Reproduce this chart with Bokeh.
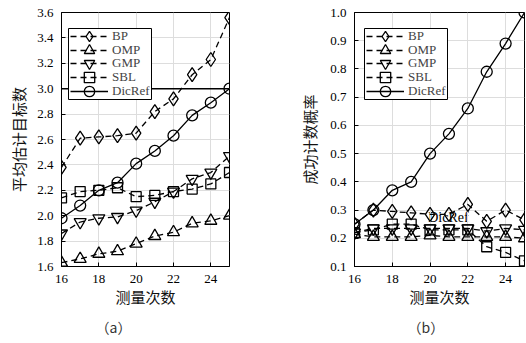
from bokeh.plotting import figure
from bokeh.layouts import row
from bokeh.models import Span, Range1d, FixedTicker, Title, Legend, LegendItem, BoxAnnotation
from bokeh.embed import file_html
from bokeh.resources import INLINE
from bokeh.core.properties import value

# ---------------- data ----------------
meas = [16, 17, 18, 19, 20, 21, 22, 23, 24, 25]
x_ticks = [16, 18, 20, 22, 24]

# (a) average estimated target number
a_bp = [2.38, 2.61, 2.62, 2.63, 2.65, 2.82, 2.92, 3.11, 3.23, 3.56]
a_omp = [1.63, 1.66, 1.70, 1.72, 1.78, 1.84, 1.87, 1.94, 1.96, 2.00]
a_gmp = [1.86, 1.95, 1.98, 1.99, 2.04, 2.11, 2.19, 2.29, 2.34, 2.47]
a_sbl = [2.14, 2.19, 2.20, 2.22, 2.15, 2.16, 2.19, 2.21, 2.25, 2.34]
a_dic = [1.98, 2.08, 2.20, 2.26, 2.41, 2.51, 2.63, 2.79, 2.89, 3.00]
a_ref = 3.0
a_yticks = [1.6, 1.8, 2.0, 2.2, 2.4, 2.6, 2.8, 3.0, 3.2, 3.4, 3.6]
a_ylabels = ["1.6", "1.8", "2.0", "2.2", "2.4", "2.6", "2.8", "3.0", "3.2", "3.4", "3.6"]

# (b) success probability
b_bp = [0.25, 0.30, 0.295, 0.29, 0.285, 0.285, 0.32, 0.26, 0.30, 0.265]
b_omp = [0.215, 0.205, 0.205, 0.205, 0.21, 0.205, 0.205, 0.205, 0.205, 0.20]
b_gmp = [0.22, 0.235, 0.235, 0.235, 0.235, 0.235, 0.235, 0.225, 0.235, 0.23]
b_sbl = [0.22, 0.23, 0.25, 0.25, 0.23, 0.23, 0.23, 0.17, 0.15, 0.12]
b_dic = [0.25, 0.30, 0.37, 0.40, 0.50, 0.57, 0.66, 0.79, 0.89, 1.00]
b_yticks = [0.1, 0.2, 0.3, 0.4, 0.5, 0.6, 0.7, 0.8, 0.9, 1.0]
b_ylabels = ["0.1", "0.2", "0.3", "0.4", "0.5", "0.6", "0.7", "0.8", "0.9", "1.0"]
b_note_x = [19.9]
b_note_y = [0.274]
b_note_text = ["DicRef"]

names = ["BP", "OMP", "GMP", "SBL", "DicRef"]
markers = ["diamond", "triangle", "inverted_triangle", "square", "circle"]
msizes = [14, 12, 12, 10, 11]
dashes = ["6 4", "6 4", "6 4", "6 4", "solid"]

SERIF = "Liberation Serif"
CJK = "Noto Sans CJK SC"

FRAME_H = 254
LEG_W, LEG_H, LEG_PITCH, GLYPH_H = 83, 71, 13.7, 26


def panel(width, bl, br, yr, yticks, ylabels, ylab, ylab_standoff, series, caption, cap_off,
          leg_left, leg_top, ref=None):
    p = figure(width=width, height=343, x_range=Range1d(16, 25), y_range=Range1d(*yr),
               output_backend="svg", toolbar_location=None,
               min_border_left=bl, min_border_right=br, min_border_top=12, min_border_bottom=77)
    p.outline_line_color = "black"
    p.outline_line_width = 1
    p.xaxis.ticker = FixedTicker(ticks=x_ticks)
    p.yaxis.ticker = FixedTicker(ticks=yticks)
    p.yaxis.major_label_overrides = {t: l for t, l in zip(yticks, ylabels)}
    for ax in (p.xaxis, p.yaxis):
        ax.major_tick_in = 4
        ax.major_tick_out = 0
        ax.minor_tick_line_color = None
        ax.axis_line_color = "black"
        ax.major_tick_line_color = "black"
        ax.major_label_text_font = SERIF
        ax.major_label_text_font_size = "13px"
        ax.major_label_text_color = "black"
        ax.axis_label_text_font = CJK
        ax.axis_label_text_font_size = "15px"
        ax.axis_label_text_font_style = "normal"
        ax.axis_label_text_color = "#111111"
    p.xaxis.major_label_standoff = 8
    p.yaxis.major_label_standoff = 8
    p.xaxis.axis_label = "测量次数"
    p.xaxis.axis_label_standoff = 0
    p.yaxis.axis_label = ylab
    p.yaxis.axis_label_standoff = ylab_standoff
    p.grid.grid_line_color = "#dddddd"
    p.grid.grid_line_width = 1
    p.background_fill_color = "white"

    rends = []
    for name, ys, mk, ms, ds in zip(names, series, markers, msizes, dashes):
        lr = p.line(meas, ys, line_color="black", line_width=1.3, line_dash=ds)
        sr = p.scatter(meas, ys, marker=mk, size=ms, line_color="black", line_width=1.3,
                       fill_color=None)
        rends.append((name, lr, sr))

    if ref is not None:
        p.add_layout(Span(location=ref, dimension="width", line_color="black", line_width=1.5))

    # legend frame
    top_fb = FRAME_H - leg_top
    p.add_layout(BoxAnnotation(left=leg_left, right=leg_left + LEG_W,
                               top=top_fb, bottom=top_fb - LEG_H,
                               left_units="screen", right_units="screen",
                               top_units="screen", bottom_units="screen",
                               fill_color="white", fill_alpha=1,
                               line_color="black", line_width=1, line_alpha=1))
    # legend entries, one per row
    for i, (name, lr, sr) in enumerate(rends):
        center = top_fb - 8 - LEG_PITCH * i
        lg = Legend(items=[LegendItem(label=name, renderers=[lr, sr])],
                    location=(leg_left + 2, center - GLYPH_H / 2))
        lg.border_line_color = None
        lg.background_fill_alpha = 0
        lg.label_text_font = SERIF
        lg.label_text_font_size = "13px"
        lg.glyph_width = 38
        lg.glyph_height = GLYPH_H
        lg.label_height = GLYPH_H
        lg.label_standoff = 4
        lg.spacing = 0
        lg.padding = 0
        lg.margin = 0
        p.add_layout(lg)

    t = Title(text=caption, align="left", offset=cap_off, text_font=CJK,
              text_font_size="14px", text_font_style="normal", text_color="#333333")
    p.add_layout(t, "below")
    return p


pa = panel(268, 61, 39, (1.6, 3.6), a_yticks, a_ylabels, "平均估计目标数", 5,
           [a_bp, a_omp, a_gmp, a_sbl, a_dic], "（a）", 34, 7, 16, ref=a_ref)

pb = panel(258, 86, 2, (0.1, 1.0), b_yticks, b_ylabels, "成功计数概率", 7,
           [b_bp, b_omp, b_gmp, b_sbl, b_dic], "（b）", 53, 10, 16)
pb.text(b_note_x, b_note_y, text=b_note_text, text_font=value(SERIF), text_font_size="14px",
        text_baseline="middle", text_align="left", text_color="black", level="underlay")

layout = row(pa, pb)
open("out.html", "w").write(file_html(layout, INLINE))
